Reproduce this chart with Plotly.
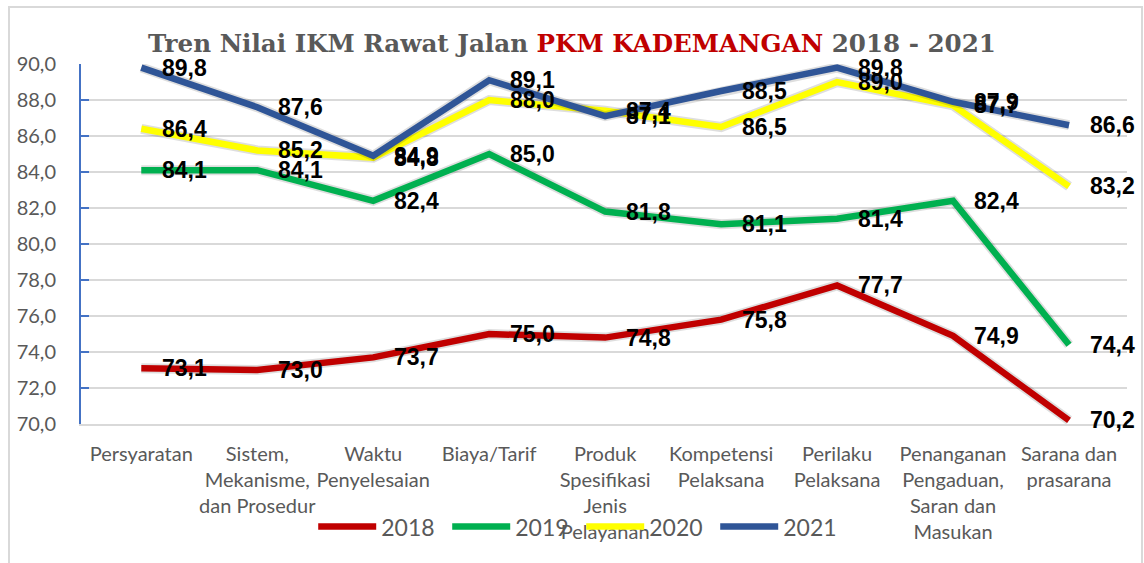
import plotly.graph_objects as go

categories = [
    "Persyaratan",
    "Sistem,<br>Mekanisme,<br>dan Prosedur",
    "Waktu<br>Penyelesaian",
    "Biaya/Tarif",
    "Produk<br>Spesifikasi<br>Jenis<br>Pelayanan",
    "Kompetensi<br>Pelaksana",
    "Perilaku<br>Pelaksana",
    "Penanganan<br>Pengaduan,<br>Saran dan<br>Masukan",
    "Sarana dan<br>prasarana",
]

series_names = ["2018", "2019", "2020", "2021"]
values_2018 = [73.1, 73.0, 73.7, 75.0, 74.8, 75.8, 77.7, 74.9, 70.2]
values_2019 = [84.1, 84.1, 82.4, 85.0, 81.8, 81.1, 81.4, 82.4, 74.4]
values_2020 = [86.4, 85.2, 84.8, 88.0, 87.4, 86.5, 89.0, 87.7, 83.2]
values_2021 = [89.8, 87.6, 84.9, 89.1, 87.1, 88.5, 89.8, 87.9, 86.6]
series_values = [values_2018, values_2019, values_2020, values_2021]
series_colors = ["#C00000", "#00B050", "#FFFF00", "#2F5597"]

y_tick_values = [70, 72, 74, 76, 78, 80, 82, 84, 86, 88, 90]

fig = go.Figure()

for name, vals, col in zip(series_names, series_values, series_colors):
    # soft shadow under the line
    fig.add_trace(go.Scatter(
        x=categories, y=vals, mode="lines", showlegend=False,
        line=dict(color="rgba(0,0,0,0.13)", width=10),
        hoverinfo="skip",
    ))
    fig.add_trace(go.Scatter(
        x=categories, y=vals, name=name, mode="lines",
        line=dict(color=col, width=6.5),
        hoverinfo="skip",
    ))

label_font = dict(family="Liberation Sans, Arial", size=23, color="#000000")
annotations = []
for vals in series_values:
    for cat, v in zip(categories, vals):
        annotations.append(dict(
            x=cat, y=v, xref="x", yref="y",
            text="<b>" + f"{v:.1f}".replace(".", ",") + "</b>",
            showarrow=False, xanchor="left", yanchor="middle",
            xshift=19, font=label_font,
        ))

fig.update_layout(
    width=1144, height=563,
    margin=dict(l=81, r=17, t=64, b=139),
    paper_bgcolor="#FFFFFF", plot_bgcolor="#FFFFFF",
    separators=",.",
    title=dict(
        text="<b>Tren Nilai IKM Rawat Jalan <span style='color:#C00000'>PKM KADEMANGAN</span> 2018 - 2021</b>",
        x=0.5, xref="container", xanchor="center",
        y=1 - 43 / 563, yref="container", yanchor="middle",
        font=dict(family="DejaVu Serif", size=24.6, color="#595959"),
    ),
    xaxis=dict(
        range=[-0.52, 8.5],
        showgrid=False, zeroline=False,
        showline=True, linecolor="#D9D9D9", linewidth=2,
        ticks="", ticklabelstandoff=11, tickangle=0, automargin=False,
        tickfont=dict(family="Lato", size=20, color="#595959"),
        fixedrange=True,
    ),
    yaxis=dict(
        range=[70, 90], tickvals=y_tick_values, tickformat=".1f",
        showgrid=True, gridcolor="#D9D9D9", gridwidth=1.5,
        zeroline=False, automargin=False,
        showline=True, linecolor="#4472C4", linewidth=2,
        ticks="inside", ticklen=8, tickwidth=2, tickcolor="#4472C4",
        ticklabelstandoff=19,
        tickfont=dict(family="Lato", size=20, color="#595959"),
        fixedrange=True,
    ),
    legend=dict(
        orientation="h", x=0.222, xanchor="left", y=-0.285, yanchor="middle",
        font=dict(family="Lato", size=23, color="#595959"),
        entrywidth=61, entrywidthmode="pixels", itemwidth=58,
        bgcolor="rgba(0,0,0,0)",
    ),
    showlegend=True,
    annotations=annotations,
    shapes=[dict(
        type="rect", xref="paper", yref="paper",
        x0=(9 - 81) / 1046, x1=(1142 - 81) / 1046,
        y0=(424 - 590) / 360, y1=(424 - 7) / 360,
        line=dict(color="#D9D9D9", width=2), layer="below",
    )],
)

fig.write_html(
    "out.html",
    config={"displayModeBar": False},
    post_script="document.body.style.margin='0';document.body.style.padding='0';",
)
